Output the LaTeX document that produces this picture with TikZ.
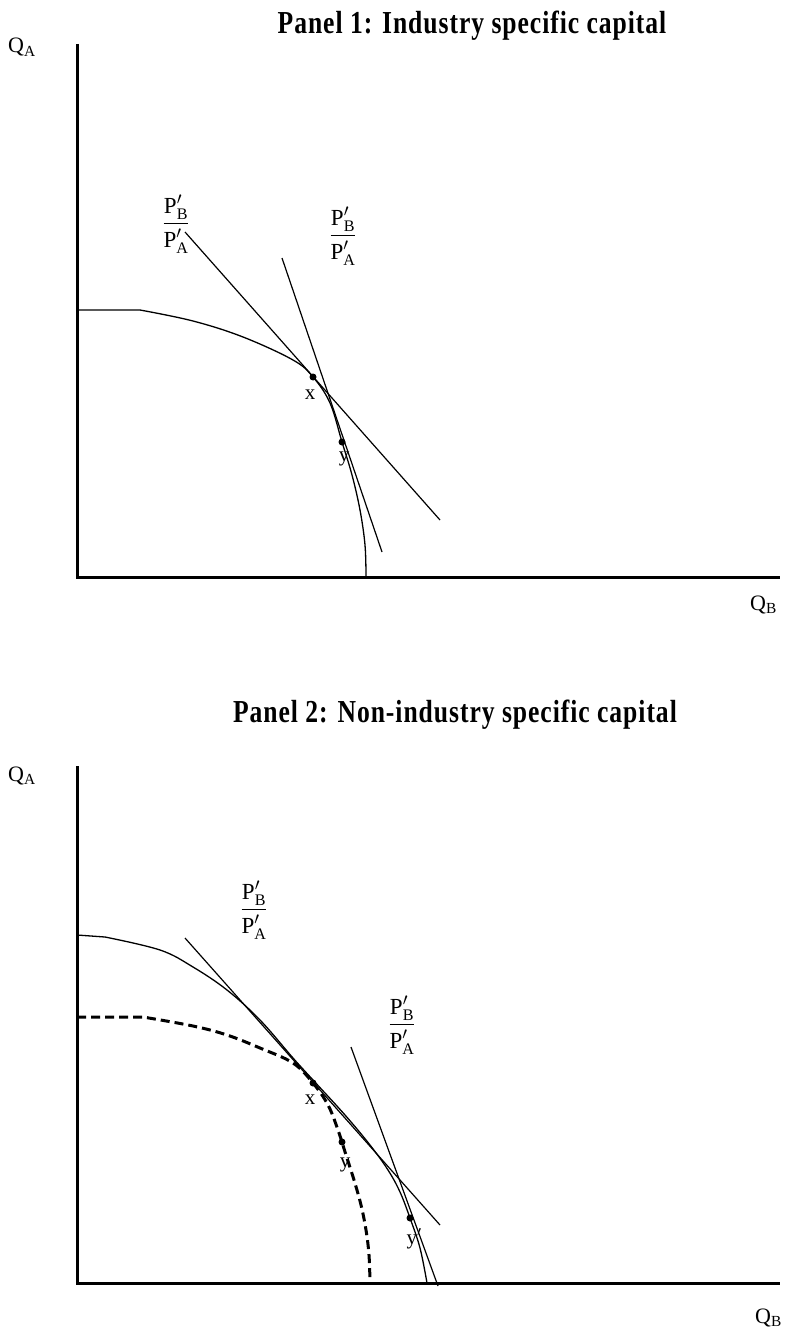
\documentclass[tikz,border=0pt]{standalone}
\usepackage{fontspec}
\setmainfont{Liberation Serif}
\newfontfamily\PanelFont[FakeStretch=0.8, LetterSpace=3]{Liberation Serif}
\usepackage{amsmath}
\usepackage{tikz}
\tikzset{
  %% ── Lines ────────────────────────────────────────────────────────────
  axisLine/.style   = {line width=3pt},
  ppfSolid/.style   = {line width=1.3pt},
  ppfDashed/.style  = {line width=3pt, dash pattern=on 9pt off 5pt},
  priceLine/.style  = {line width=1.2pt},
  %%
  %% ── Points and text ──────────────────────────────────────────────────
  tangency/.style   = {circle, fill=black, inner sep=0pt, minimum size=7pt},
  tagText/.style    = {font=\fontsize{21}{23}\selectfont, inner sep=0pt},
  ratioText/.style  = {font=\fontsize{23}{25}\selectfont, inner sep=0pt},
  axisText/.style   = {font=\fontsize{22}{24}\selectfont, inner sep=0pt,
                       anchor=base west},
  panelTitle/.style = {font=\PanelFont\bfseries\fontsize{32}{34}\selectfont,
                       inner sep=0pt, anchor=base},
}
\newcommand{\PriceRatio}{$\dfrac{\mathrm{P}'_{\mathrm{B}}}{\mathrm{P}'_{\mathrm{A}}}$}

\begin{document}
\begin{tikzpicture}[x=1pt, y=-1pt]
\useasboundingbox (0,0) rectangle (790,1332);

%% Panel 1
\node[panelTitle] (title1) at (472,34) {Panel 1: Industry specific capital};
\draw[axisLine] (77,44) -- (77,577) -- (780,577);
\node[axisText] (qa1) at (8,53) {Q$_{\mathrm{A}}$};
\node[axisText] (qb1) at (750,610) {Q$_{\mathrm{B}}$};

\draw[ppfSolid] (77,310) -- plot[smooth, tension=0.6] coordinates {(140,310)
  (193,321) (243,337) (293,360) (313,377) (330,403) (342,442)
  (352,475) (360,510) (365,545) (366,577)};
\draw[priceLine] (185,232) -- (440,520);
\draw[priceLine] (282,258) -- (382,552);

\node[tangency] (x1) at (313,377) {};
\node[tangency] (y1) at (342,442) {};
\node[tagText] (lx1) at (310,395) {x};
\node[tagText] (ly1) at (344,459) {y};
\node[ratioText] (r1a) at (176,224) {\PriceRatio};
\node[ratioText] (r1b) at (343,236) {\PriceRatio};

%% Panel 2
\node[panelTitle] (title2) at (455,722) {Panel 2: Non-industry specific capital};
\draw[axisLine] (77,766) -- (77,1283) -- (780,1283);
\node[axisText] (qa2) at (8,781) {Q$_{\mathrm{A}}$};
\node[axisText] (qb2) at (755,1323) {Q$_{\mathrm{B}}$};

\draw[ppfSolid] (77,935) -- plot[smooth, tension=0.6] coordinates {(105,937) (160,950)
  (193,967) (227,990) (260,1020) (293,1058) (313,1080) (345,1115) (370,1145)
  (388,1170) (400,1192) (410,1218) (420,1248) (427,1283)};
\draw[ppfDashed] (77,1017) -- plot[smooth, tension=0.6] coordinates {(143,1017)
  (193,1026) (227,1035) (260,1048) (293,1063) (313,1083) (328,1105) (338,1130)
  (346,1155) (354,1180) (361,1205) (366,1230) (369,1255) (370,1283)};
\draw[priceLine] (185,938) -- (440,1225);
\draw[priceLine] (351,1047) -- (438,1286);

\node[tangency] (x2) at (313,1083) {};
\node[tangency] (y2) at (342,1142) {};
\node[tangency] (y2p) at (410,1218) {};
\node[tagText] (lx2) at (310,1100) {x};
\node[tagText] (ly2) at (345,1165) {y};
\node[tagText] (ly2p) at (414,1239) {y$'$};
\node[ratioText] (r2a) at (254,910) {\PriceRatio};
\node[ratioText] (r2b) at (402,1025) {\PriceRatio};

\end{tikzpicture}
\end{document}
